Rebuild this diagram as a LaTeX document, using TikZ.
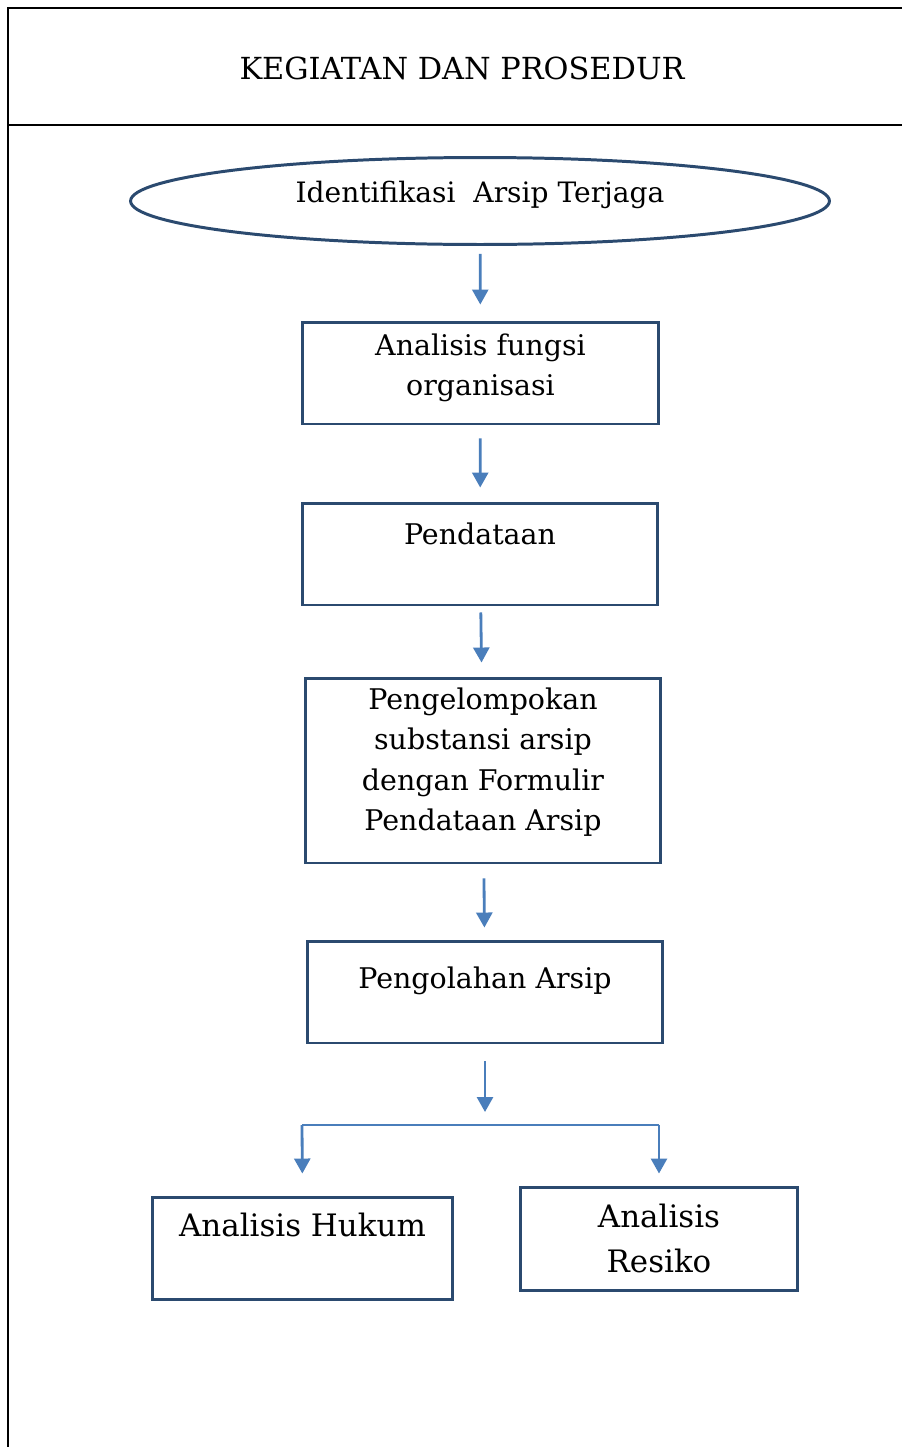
\documentclass[tikz,border=0pt]{standalone}
\usepackage{fontspec}
\setmainfont{DejaVu Serif}
\usetikzlibrary{arrows.meta, shapes.geometric}
\definecolor{cnavy}{HTML}{2B4A6F}
\definecolor{cblue}{HTML}{4A7EBB}
\tikzset{
  every picture/.style={line width=1.5pt},
  box/.style={draw=cnavy, line width=1.7pt, align=center, inner sep=0pt, font=\fontsize{16.2}{23}\selectfont},
  bigbox/.style={box, font=\fontsize{17.6}{25.5}\selectfont},
  oval/.style={ellipse, draw=cnavy, line width=1.7pt, inner sep=0pt, font=\fontsize{16}{19}\selectfont},
  arrow/.style={-{Triangle[width=0.32cm, length=0.3cm]}, draw=cblue, line width=1.6pt},
  branch/.style={draw=cblue, line width=1.6pt},
  title/.style={font=\fontsize{17.3}{20}\selectfont},
}

\begin{document}
\begin{tikzpicture}[x=0.02cm, y=-0.02cm]
  \useasboundingbox (0,0) rectangle (902,1447);
  % table frame
  \draw (8,1447) -- (8,8) -- (902,8);
  \draw (8,125) -- (902,125);
  \node[title] (judul) at (462,68) {KEGIATAN DAN PROSEDUR};
  \node[oval, minimum width=13.98cm, minimum height=1.74cm, text depth=0.36cm] (ident) at (480,201) {Identifikasi\ \ Arsip Terjaga};
  \node[box, minimum width=7.14cm, minimum height=2.04cm, text depth=0.34cm] (fungsi) at (480.5,373) {Analisis fungsi\\ organisasi};
  \node[box, minimum width=7.12cm, minimum height=2.04cm, text depth=0.8cm] (data) at (480,554) {Pendataan};
  \node[box, minimum width=7.12cm, minimum height=3.7cm, text depth=0.46cm] (kelompok) at (483,770.5) {Pengelompokan\\ substansi arsip\\ dengan Formulir\\ Pendataan Arsip};
  \node[box, minimum width=7.12cm, minimum height=2.04cm, text depth=0.56cm] (olah) at (485,992) {Pengolahan Arsip};
  \node[bigbox, minimum width=6.02cm, minimum height=2.04cm, text depth=0.92cm] (hukum) at (302.5,1248) {Analisis Hukum};
  \node[bigbox, minimum width=5.56cm, minimum height=2.06cm, text depth=0cm] (resiko) at (659,1238.5) {Analisis\\ Resiko};
  \coordinate (split) at (485,1112);
  \coordinate (bl) at (302,1125);
  \coordinate (br) at (659,1125);
  \foreach \a/\b/\s/\e in {ident/fungsi/0.16/0.32, fungsi/data/0.26/0.28, data/kelompok/0.12/0.28, kelompok/olah/0.28/0.24}
    \draw[arrow, shorten <=\s cm, shorten >=\e cm] (\a) -- (\b);
  \draw[arrow, shorten <=0.34cm] (olah) -- (split);
  \draw[branch] (bl) -- (br);
  \draw[arrow, shorten >=0.44cm] (bl) -- (hukum.north);
  \draw[arrow, shorten >=0.24cm] (br) -- (resiko.north);
\end{tikzpicture}
\end{document}
